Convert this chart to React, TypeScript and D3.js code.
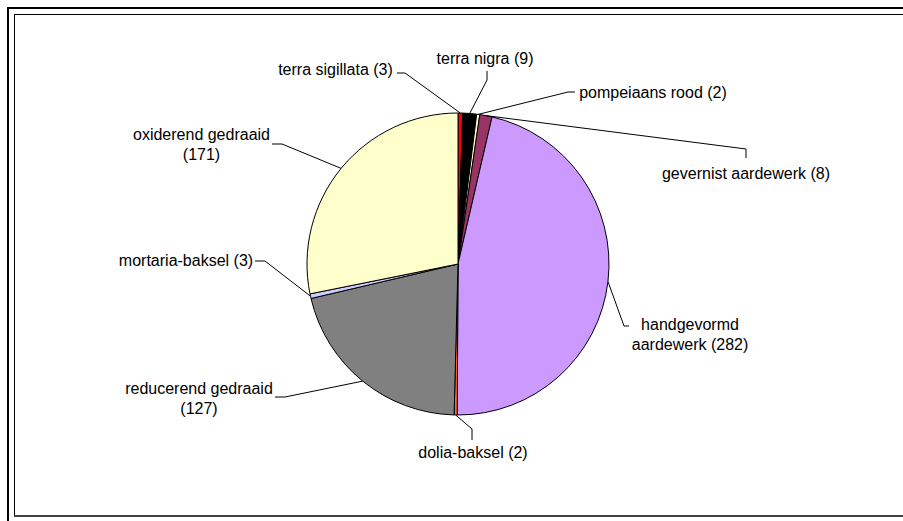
import * as d3 from 'd3';
import React from 'react';

const width = 903;
const height = 521;
const center = { x: 458, y: 264 };
const radius = 151;

// slices, clockwise from 12 o'clock
const categories = [
  'terra sigillata',
  'terra nigra',
  'pompeiaans rood',
  'gevernist aardewerk',
  'handgevormd aardewerk',
  'dolia-baksel',
  'reducerend gedraaid',
  'mortaria-baksel',
  'oxiderend gedraaid',
];
const counts = [3, 9, 2, 8, 282, 2, 127, 3, 171];
const colors = ['#FF0000', '#000000', '#FFFFCC', '#993366', '#CC99FF', '#FF6633', '#808080', '#CCCCFF', '#FFFFCC'];

// label text split over lines
const labelLines = [
  ['terra sigillata (3)'],
  ['terra nigra (9)'],
  ['pompeiaans rood (2)'],
  ['gevernist aardewerk (8)'],
  ['handgevormd', 'aardewerk (282)'],
  ['dolia-baksel (2)'],
  ['reducerend gedraaid', '(127)'],
  ['mortaria-baksel (3)'],
  ['oxiderend gedraaid', '(171)'],
];

// label placement: text centre / first baseline, leader start and elbow
const labelPos = [
  { x: 335.5, y: 75, start: [397, 73], elbow: [405, 73] },
  { x: 485, y: 64, start: [487, 71], elbow: [487, 80] },
  { x: 653, y: 97.5, start: [575, 92], elbow: [568, 92] },
  { x: 746, y: 179, start: [746, 158], elbow: [746, 149] },
  { x: 690, y: 330, start: [629, 326], elbow: [624, 326] },
  { x: 473, y: 458, start: [472, 440], elbow: [472, 429] },
  { x: 199, y: 393.5, start: [275, 397], elbow: [285, 397] },
  { x: 186, y: 266, start: [255, 261], elbow: [265, 261] },
  { x: 201.5, y: 139.5, start: [272, 144], elbow: [282, 144] },
];

const lineHeight = 20;

export default function App() {
  const pie = d3
    .pie<number>()
    .sort(null)
    .value(d => d)
    .startAngle(0)
    .endAngle(2 * Math.PI);
  const arcs = pie(counts);
  const arc = d3.arc<d3.PieArcDatum<number>>().innerRadius(0).outerRadius(radius);

  return (
    <svg
      width={width}
      height={height}
      style={{ position: 'absolute', left: 0, top: 0, background: '#fff' }}
      fontFamily="'Liberation Sans', Arial, sans-serif"
      fontSize={16}
    >
      <rect x={0} y={0} width={width} height={height} fill="#fff" />
      {/* outer frame */}
      <rect x={8} y={8} width={width + 20} height={height + 20} fill="none" stroke="#000" strokeWidth={2} />
      {/* plot area frame */}
      <rect x={14.5} y={14.5} width={width + 20} height={501} fill="none" stroke="#000" strokeWidth={1} />
      <line x1={14} x2={width} y1={516} y2={516} stroke="#404040" strokeWidth={2} />

      <g transform={`translate(${center.x},${center.y})`}>
        {arcs.map((a, i) => (
          <path key={categories[i]} d={arc(a) || ''} fill={colors[i]} stroke="#000" strokeWidth={1} />
        ))}
      </g>

      {arcs.map((a, i) => {
        const mid = (a.startAngle + a.endAngle) / 2;
        const px = center.x + radius * Math.sin(mid);
        const py = center.y - radius * Math.cos(mid);
        const p = labelPos[i];
        const path = d3.path();
        path.moveTo(p.start[0], p.start[1]);
        path.lineTo(p.elbow[0], p.elbow[1]);
        path.lineTo(px, py);
        return <path key={'l' + i} d={path.toString()} fill="none" stroke="#000" strokeWidth={1} />;
      })}

      {labelLines.map((lines, i) => (
        <text key={'t' + i} x={labelPos[i].x} y={labelPos[i].y} textAnchor="middle" fill="#000">
          {lines.map((t, j) => (
            <tspan key={j} x={labelPos[i].x} y={labelPos[i].y + j * lineHeight}>
              {t}
            </tspan>
          ))}
        </text>
      ))}
    </svg>
  );
}
